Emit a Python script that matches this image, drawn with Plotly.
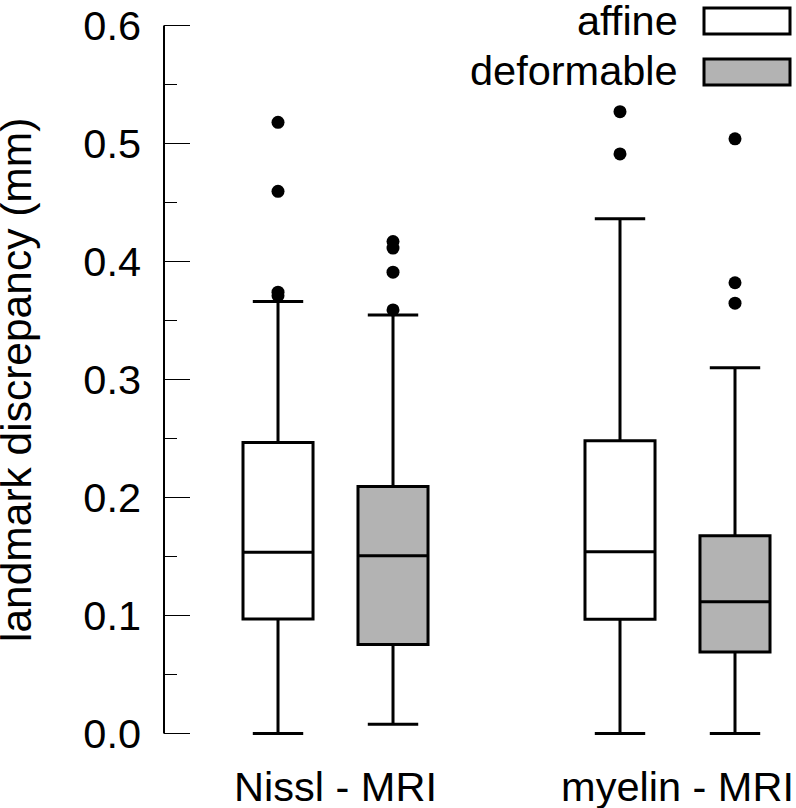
import plotly.graph_objects as go

# ---- data ----
categories = ["Nissl - MRI", "myelin - MRI"]

affine_q1 = [0.0969, 0.0968]
affine_median = [0.1535, 0.1539]
affine_q3 = [0.2465, 0.2480]
affine_lower = [0.0, 0.0]
affine_upper = [0.3662, 0.4363]
affine_outliers_x = ["Nissl - MRI"] * 4 + ["myelin - MRI"] * 2
affine_outliers_y = [0.518, 0.4595, 0.374, 0.371, 0.527, 0.4912]

deform_q1 = [0.0754, 0.0690]
deform_median = [0.1506, 0.1115]
deform_q3 = [0.2092, 0.1675]
deform_lower = [0.0078, 0.0]
deform_upper = [0.3547, 0.3100]
deform_outliers_x = ["Nissl - MRI"] * 4 + ["myelin - MRI"] * 3
deform_outliers_y = [0.417, 0.4114, 0.391, 0.359, 0.504, 0.382, 0.3647]

series_names = ["affine", "deformable"]
y_tick_values = [0.0, 0.1, 0.2, 0.3, 0.4, 0.5, 0.6]
y_title = "landmark discrepancy (mm)"

# ---- styling ----
FONT = "Liberation Sans, Arial, Helvetica, sans-serif"
FS = 41.5
FS_TITLE = 42.5
GRAY = "#b3b3b3"
W, H = 796, 808
ML, MR, MT, MB = 164, 0, 2, 51
PW, PH = W - ML - MR, H - MT - MB
BOXGAP = 0.3275
BOXGROUPGAP = 0.391


def px_x(p):
    return (p - ML) / PW


def px_y(p):
    return (H - MB - p) / PH


fig = go.Figure()

fills = ["white", GRAY]
stats = [
    (affine_q1, affine_median, affine_q3, affine_lower, affine_upper),
    (deform_q1, deform_median, deform_q3, deform_lower, deform_upper),
]
for name, fill, (q1, med, q3, lo, hi) in zip(series_names, fills, stats):
    fig.add_trace(go.Box(
        name=name, x=categories, q1=q1, median=med, q3=q3,
        lowerfence=lo, upperfence=hi,
        fillcolor=fill, line=dict(color="black", width=3),
        whiskerwidth=0.72, boxpoints=False, offsetgroup=name,
        showlegend=False, hoverinfo="skip",
    ))

for name, xs, ys in zip(series_names, [affine_outliers_x, deform_outliers_x],
                        [affine_outliers_y, deform_outliers_y]):
    fig.add_trace(go.Scatter(
        x=xs, y=ys, mode="markers", offsetgroup=name,
        marker=dict(color="black", size=13, line=dict(width=0)),
        showlegend=False, hoverinfo="skip", cliponaxis=False,
    ))

# y axis line from 0 to max tick
fig.add_shape(type="line", xref="paper", yref="y", x0=0, x1=0,
              y0=y_tick_values[0], y1=y_tick_values[-1],
              line=dict(color="black", width=2), layer="above")

# manual legend (text to the left of swatches)
legend_rows = [(21, 8, 34), (72, 59, 85)]
for name, fill, (cy, y0, y1) in zip(series_names, fills, legend_rows):
    fig.add_shape(type="rect", xref="paper", yref="paper",
                  x0=px_x(704), x1=px_x(790), y0=px_y(y1), y1=px_y(y0),
                  fillcolor=fill, line=dict(color="black", width=3))
    fig.add_annotation(text=name, xref="paper", yref="paper",
                       x=px_x(680), y=px_y(cy - 1), xanchor="right", yanchor="middle",
                       showarrow=False, font=dict(family=FONT, size=FS, color="black"))

fig.add_annotation(text=y_title, textangle=-90, xref="paper", yref="paper",
                   x=px_x(16), y=px_y(380), xanchor="center", yanchor="middle",
                   showarrow=False, font=dict(family=FONT, size=FS_TITLE, color="black"))

fig.update_layout(
    template="none",
    width=W, height=H,
    margin=dict(l=ML, r=MR, t=MT, b=MB, autoexpand=False),
    paper_bgcolor="white", plot_bgcolor="white",
    boxmode="group", boxgap=BOXGAP, boxgroupgap=BOXGROUPGAP,
    scattermode="group", scattergap=BOXGAP,
    font=dict(family=FONT, size=FS, color="black"),
    showlegend=False,
    xaxis=dict(type="category", categoryorder="array", categoryarray=categories,
               range=[-0.5015, 1.3465], showline=False, showgrid=False,
               zeroline=False, ticks="", ticklabelstandoff=1, automargin=False,
               tickfont=dict(family=FONT, size=FS, color="black")),
    yaxis=dict(range=[-0.02, 0.62], showline=False, showgrid=False, zeroline=False,
               automargin=False,
               tickmode="array", tickvals=y_tick_values, tickformat=".1f",
               ticks="inside", ticklen=26, tickwidth=1.8, tickcolor="black",
               ticklabelstandoff=22,
               minor=dict(dtick=0.05, tick0=0, ticks="inside", ticklen=13,
                          tickwidth=1.8, tickcolor="black", showgrid=False),
               tickfont=dict(family=FONT, size=FS, color="black")),
)

fig.write_html("out.html",
               config={"displayModeBar": False, "staticPlot": True},
               post_script="document.body.style.margin='0px';"
                           "document.body.style.overflow='hidden';")
